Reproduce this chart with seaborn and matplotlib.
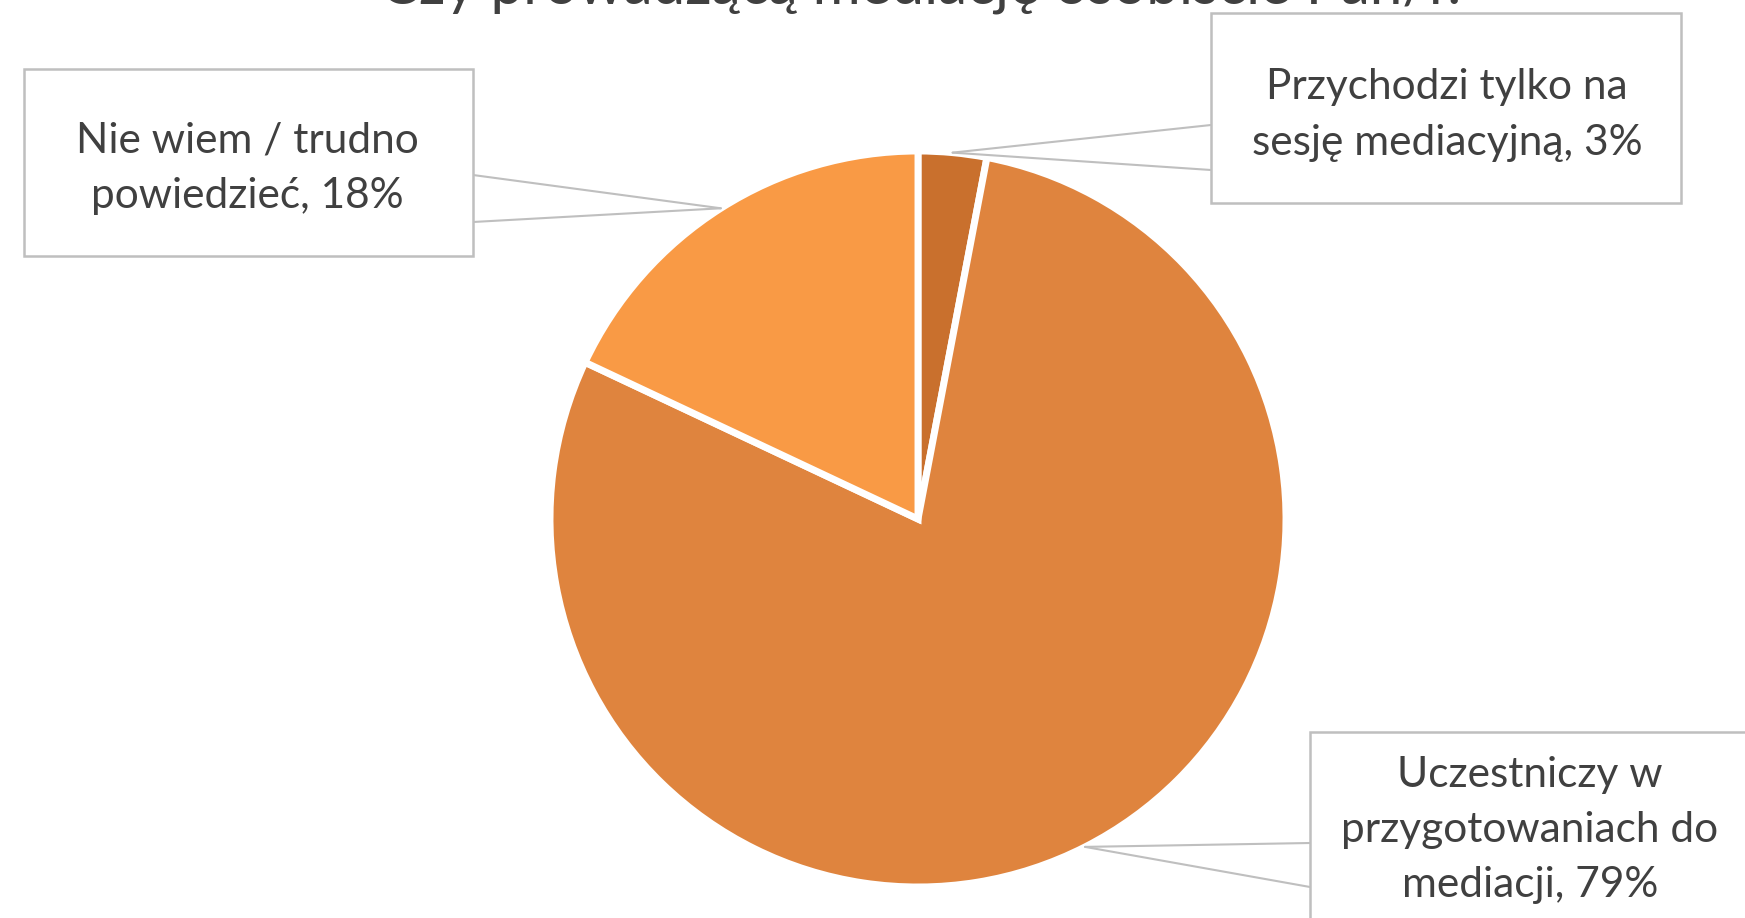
import numpy as np
import matplotlib
matplotlib.use("Agg")
import matplotlib.pyplot as plt
import seaborn as sns
from matplotlib.patches import Rectangle

# data
labels = ["Przychodzi tylko na\nsesję mediacyjną",
          "Uczestniczy w\nprzygotowaniach do\nmediacji",
          "Nie wiem / trudno\npowiedzieć"]
shares = [3, 79, 18]
colors = ["#C9702D", "#DF843E", "#F99A45"]
title = "Czy prowadzącą mediację osobiście Pan/i?"

# callout boxes in image pixels (left, top, right, bottom) and leader base points
boxes = [(1211, 13, 1681, 203), (1310, 732, 1765, 935), (24, 69, 473, 256)]
text_centers = [(1447, 115), (1530, 830), (247, 168)]
leader_bases = [[(1211, 125), (1211, 170)],
                [(1310, 843), (1310, 887)],
                [(473, 175), (473, 222)]]

W, H = 1745, 918
sns.set_theme(style="white")
plt.rcParams['font.family'] = ['Lato', 'DejaVu Sans']

fig = plt.figure(figsize=(W / 100, H / 100), dpi=100)
fig.patch.set_facecolor("white")

# pie centre ~ (918, 519) px, radius ~ 368 px
cx, cy, r = 918, 519, 368
ax = fig.add_axes([(cx - r) / W, (H - cy - r) / H, 2 * r / W, 2 * r / H])
wedges, _ = ax.pie(shares, colors=colors, startangle=90, counterclock=False,
                   radius=1, wedgeprops=dict(edgecolor="white", linewidth=5))
ax.set_xlim(-1, 1)
ax.set_ylim(-1, 1)
ax.set_aspect("equal")
ax.axis("off")

grey = "#BFBFBF"
for i, w in enumerate(wedges):
    mid = np.deg2rad((w.theta1 + w.theta2) / 2)
    tip = (np.cos(mid), np.sin(mid))
    # leader wedge: two thin lines from the box to the slice edge
    for bx, by in leader_bases[i]:
        ax.annotate("", xy=tip, xycoords="data",
                    xytext=(bx, H - by), textcoords="figure pixels",
                    arrowprops=dict(arrowstyle="-", color=grey, lw=1.5,
                                    shrinkA=0, shrinkB=0),
                    annotation_clip=False)
    l, t, rr, b = boxes[i]
    fig.patches.append(Rectangle((l / W, 1 - b / H), (rr - l) / W, (b - t) / H,
                                 transform=fig.transFigure, facecolor="white",
                                 edgecolor=grey, lw=1.8, zorder=3))
    tx, ty = text_centers[i]
    fig.text(tx / W, 1 - ty / H, f"{labels[i]}, {shares[i]}%", ha="center",
             va="center", fontsize=30.5, color="#404040", linespacing=1.55,
             zorder=4)

# title is cut off at the top edge of the image, as in the source
fig.text(0.53, 1 - 3 / H, title, ha="center", va="baseline", fontsize=42,
         color="#404040")

fig.savefig("out.png", dpi=100, facecolor="white")
